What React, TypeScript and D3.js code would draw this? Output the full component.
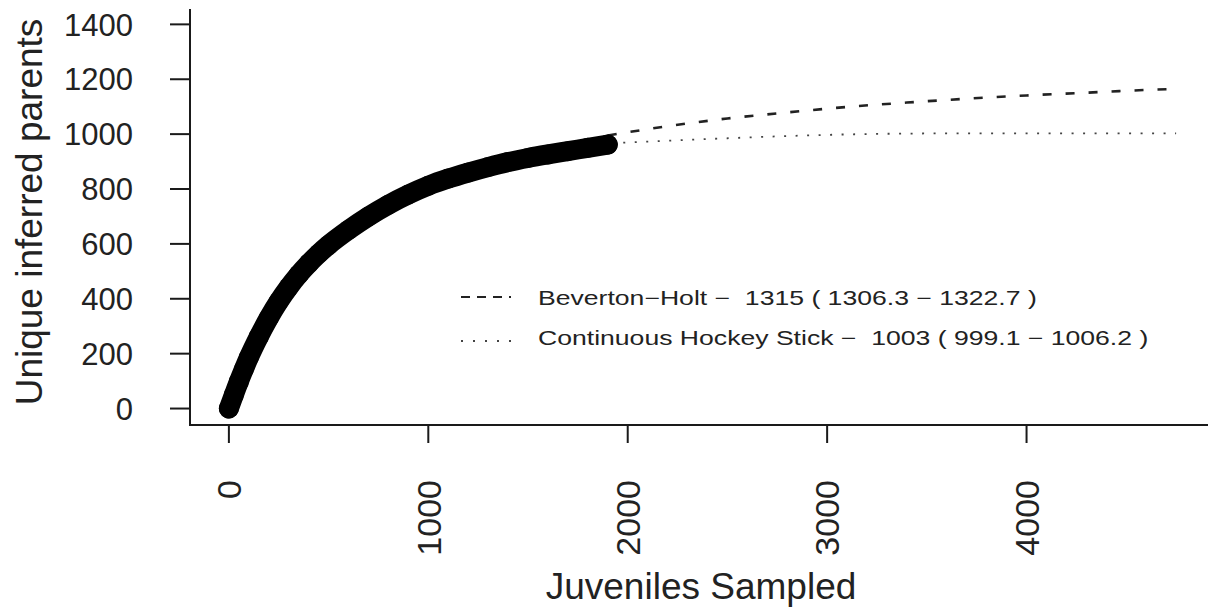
import React from "react";
import * as d3 from "d3";

const juvenilesSampled = [0, 25, 50, 75, 100, 150, 200, 250, 300, 350, 400, 450, 500, 600, 700, 800, 900, 1000, 1100, 1200, 1300, 1400, 1500, 1600, 1700, 1800, 1900];
const uniqueParents = [0, 50, 98, 143, 186, 262, 330, 390, 442, 488, 528, 564, 596, 651, 700, 743, 780, 812, 838, 860, 880, 898, 913, 926, 938, 950, 962];

// Beverton-Holt fitted extrapolation
const bhX = [1900, 2200, 2500, 2800, 3100, 3400, 3700, 4000, 4300, 4600, 4760];
const bhY = [995, 1029, 1057, 1079, 1099, 1115, 1129, 1141, 1151, 1161, 1165];

// Continuous hockey stick fitted extrapolation
const hsX = [1920, 2200, 2500, 2800, 3100, 3400, 3800, 4200, 4750];
const hsY = [967, 976, 985, 993, 999, 1002, 1003, 1003, 1003];

const xTicks = [0, 1000, 2000, 3000, 4000];
const yTicks = [0, 200, 400, 600, 800, 1000, 1200, 1400];

const legendLabels = [
  "Beverton\u2212Holt \u2212  1315 ( 1306.3 \u2212 1322.7 )",
  "Continuous Hockey Stick \u2212  1003 ( 999.1 \u2212 1006.2 )",
];

const xLabel = "Juveniles Sampled";
const yLabel = "Unique inferred parents";

export default function App() {
  const W = 1208;
  const H = 609;
  const x = d3.scaleLinear().domain([-195, 4940]).range([190, 1214]);
  const y = d3.scaleLinear().domain([-60, 1456]).range([425, 9]);

  const obs = juvenilesSampled.map((v, i) => [v, uniqueParents[i]] as [number, number]);
  const bh = bhX.map((v, i) => [v, bhY[i]] as [number, number]);
  const hs = hsX.map((v, i) => [v, hsY[i]] as [number, number]);

  const line = d3
    .line<[number, number]>()
    .x((d) => x(d[0]))
    .y((d) => y(d[1]))
    .curve(d3.curveMonotoneX);

  const font = "'Liberation Sans', Arial, sans-serif";
  const ink = "#1a1a1a";

  return (
    <svg
      width={W}
      height={H}
      style={{ position: "absolute", left: 0, top: 0, background: "#fff" }}
      fontFamily={font}
    >
      <rect x={0} y={0} width={W} height={H} fill="#fff" />

      {/* fitted curves */}
      <path d={line(bh) || ""} fill="none" stroke="#222" strokeWidth={2.6} strokeDasharray="9,14" />
      <path d={line(hs) || ""} fill="none" stroke="#444" strokeWidth={1.8} strokeDasharray="2,9.5" />

      {/* observed points */}
      <path d={line(obs) || ""} fill="none" stroke="#000" strokeWidth={20} strokeLinecap="round" strokeLinejoin="round" />
      {obs.map((d, i) => (
        <circle key={i} cx={x(d[0])} cy={y(d[1])} r={10} fill="#000" />
      ))}

      {/* axes frame (bty = "l") */}
      <line x1={190} y1={9} x2={190} y2={425} stroke={ink} strokeWidth={2} />
      <line x1={189} y1={425} x2={W} y2={425} stroke={ink} strokeWidth={2} />

      {/* y axis */}
      {yTicks.map((t) => (
        <g key={"y" + t}>
          <line x1={170} x2={190} y1={y(t)} y2={y(t)} stroke={ink} strokeWidth={2} />
          <text x={133} y={y(t)} dy="0.36em" textAnchor="end" fontSize={31} fill="#222">
            {t}
          </text>
        </g>
      ))}

      {/* x axis */}
      {xTicks.map((t) => (
        <g key={"x" + t}>
          <line x1={x(t)} x2={x(t)} y1={425} y2={443} stroke={ink} strokeWidth={2} />
          <text
            transform={`translate(${x(t)}, 480) rotate(-90)`}
            dy="0.36em"
            textAnchor="end"
            fontSize={34}
            fill="#222"
          >
            {t}
          </text>
        </g>
      ))}

      {/* axis titles */}
      <text x={701} y={599} textAnchor="middle" fontSize={37} fill="#222">
        {xLabel}
      </text>
      <text transform="translate(42, 212) rotate(-90)" textAnchor="middle" fontSize={37} fill="#222">
        {yLabel}
      </text>

      {/* legend */}
      <line x1={461} x2={511} y1={297} y2={297} stroke="#222" strokeWidth={2} strokeDasharray="9,7" />
      <line x1={461} x2={511} y1={341} y2={341} stroke="#444" strokeWidth={1.8} strokeDasharray="2,10" />
      {legendLabels.map((lab, i) => (
        <text
          key={lab}
          transform={`translate(538, ${305 + i * 40}) scale(1.33, 1)`}
          fontSize={20}
          fill="#222"
          style={{ whiteSpace: "pre" }}
          xmlSpace="preserve"
        >
          {lab}
        </text>
      ))}
    </svg>
  );
}
